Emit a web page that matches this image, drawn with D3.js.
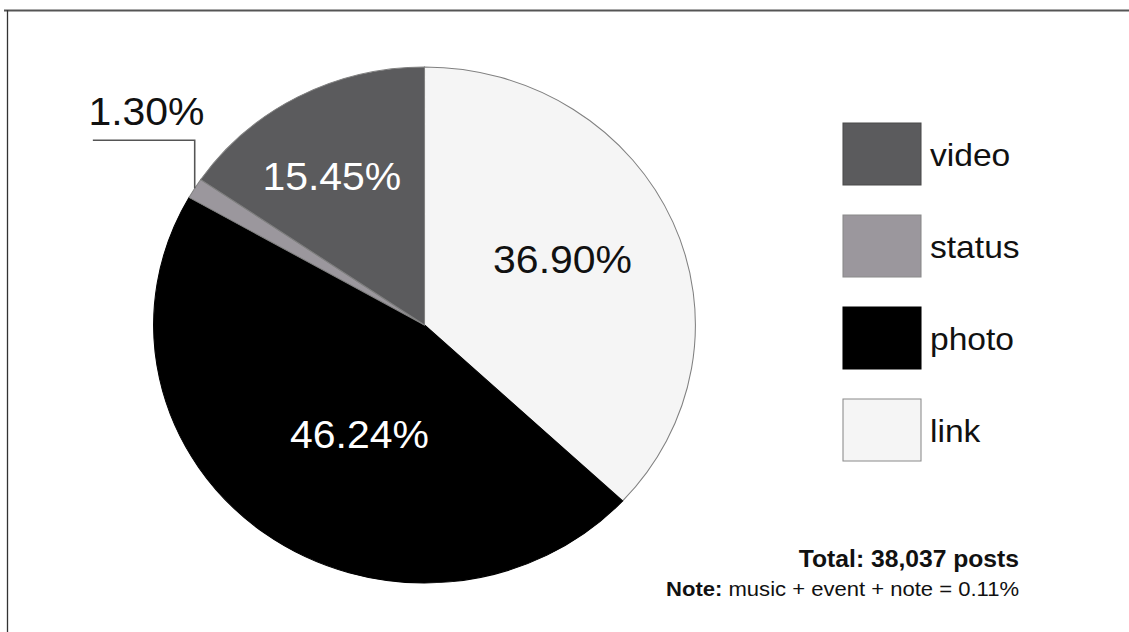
<!DOCTYPE html>
<html>
<head>
<meta charset="utf-8">
<script src="https://cdn.jsdelivr.net/npm/d3@7"></script>
<style>
  html, body { margin: 0; padding: 0; background: #fff; }
  svg { display: block; }
  text { font-family: "Liberation Sans", Arial, Helvetica, sans-serif; }
</style>
</head>
<body>
<svg id="chart" width="1129" height="632"></svg>
<script>
// Post types, in drawing order (clockwise from 12 o'clock)
const categories = ["link", "photo", "status", "video"];
// Share of posts, percent
const shares = [36.90, 46.24, 1.30, 15.45];
// Legend order, top to bottom
const legendOrder = ["video", "status", "photo", "link"];
const totalPosts = 38037;
const otherTypes = ["music", "event", "note"];
const otherShare = 0.11;

const W = 1129, H = 632;
const SX = 1.05;              // slight horizontal stretch of the whole figure
const R = 258;
const cx = 424.5 / SX, cy = 325;

const color = d3.scaleOrdinal()
  .domain(categories)
  .range(["#f5f5f5", "#000000", "#9b979d", "#5b5b5d"]);
const labelColor = { link: "#111", photo: "#fff", status: "#111", video: "#fff" };
// fine placement of the in-slice labels around their centroids
const labelNudge = { link: [-10.5, -4], photo: [29.7, -15.8], video: [-16, -12] };

const data = categories.map((c, i) => ({ key: c, value: shares[i] }));
const pct = v => d3.format(".2f")(v) + "%";

const svg = d3.select("#chart");

// frame
svg.append("line").attr("x1", 4).attr("x2", W).attr("y1", 10.5).attr("y2", 10.5)
  .attr("stroke", "#555").attr("stroke-width", 1.8);
svg.append("line").attr("x1", 7.5).attr("x2", 7.5).attr("y1", 10).attr("y2", H)
  .attr("stroke", "#333").attr("stroke-width", 1.3);

const root = svg.append("g").attr("transform", `scale(${SX},1)`);
const g = root.append("g").attr("transform", `translate(${cx},${cy})`);

const pie = d3.pie().sort(null).value(d => d.value);
const arcs = pie(data);
const arc = d3.arc().innerRadius(0).outerRadius(R);
const labelArc = d3.arc().innerRadius(R * 0.6).outerRadius(R * 0.6);
const edgeArc = d3.arc().innerRadius(R).outerRadius(R);

g.selectAll("path.slice").data(arcs).join("path")
  .attr("class", "slice")
  .attr("d", arc)
  .attr("fill", d => color(d.data.key))
  .attr("stroke", d => d.data.key === "photo" ? "#000" : "#808080")
  .attr("stroke-width", 1);

// in-slice labels
g.selectAll("text.pct").data(arcs.filter(d => d.data.key !== "status")).join("text")
  .attr("class", "pct")
  .attr("x", d => labelArc.centroid(d)[0] + labelNudge[d.data.key][0])
  .attr("y", d => labelArc.centroid(d)[1] + labelNudge[d.data.key][1])
  .attr("dy", "0.36em")
  .attr("text-anchor", "middle")
  .attr("font-size", 39)
  .attr("fill", d => labelColor[d.data.key])
  .text(d => pct(d.data.value));

// callout for the thin status slice
const st = arcs.find(d => d.data.key === "status");
const [ex, ey] = edgeArc.centroid(st);
const elbowY = ey - 48, tailX = ex - 97;
g.append("path")
  .attr("d", d3.line()([[ex, ey], [ex, elbowY], [tailX, elbowY]]))
  .attr("fill", "none").attr("stroke", "#555").attr("stroke-width", 1.5);
g.append("text")
  .attr("x", ex - 46).attr("y", ey - 63)
  .attr("text-anchor", "middle")
  .attr("font-size", 39)
  .attr("fill", "#111")
  .text(pct(st.data.value));

// legend
const legend = root.append("g").attr("transform", `translate(${843 / SX},123)`);
const boxW = 78 / SX, boxH = 62, step = 92;
const items = legend.selectAll("g.item").data(legendOrder).join("g")
  .attr("class", "item")
  .attr("transform", (d, i) => `translate(0,${i * step})`);
items.append("rect")
  .attr("width", boxW).attr("height", boxH)
  .attr("fill", d => color(d))
  .attr("stroke", d => d === "photo" ? "#000" : (d === "video" ? "#4a4a4a" : "#8a8a8a"))
  .attr("stroke-width", 1);
items.append("text")
  .attr("x", (930 - 843) / SX)
  .attr("y", boxH / 2 + 12)
  .attr("font-size", 32)
  .attr("fill", "#111")
  .text(d => d);

// footnotes
const fx = 1019 / SX;
root.append("text")
  .attr("x", fx).attr("y", 567)
  .attr("text-anchor", "end")
  .attr("font-size", 23.5).attr("font-weight", "bold").attr("fill", "#111")
  .text(`Total: ${d3.format(",")(totalPosts)} posts`);
const note = root.append("text")
  .attr("x", fx).attr("y", 596)
  .attr("text-anchor", "end")
  .attr("font-size", 21).attr("fill", "#111");
note.append("tspan").attr("font-weight", "bold").text("Note:");
note.append("tspan").text(` ${otherTypes.join(" + ")} = ${d3.format(".2f")(otherShare)}%`);
</script>
</body>
</html>
